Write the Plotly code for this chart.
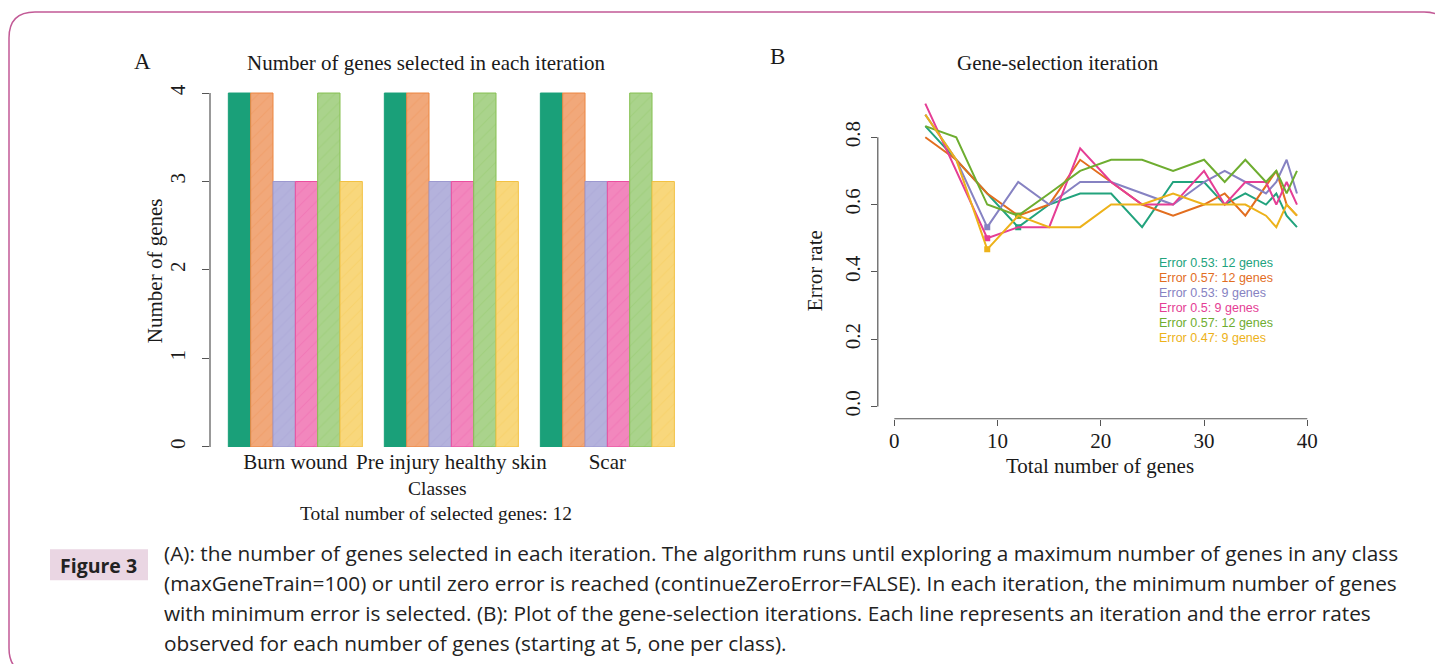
import plotly.graph_objects as go

W, H = 1435, 664

# ---------------- Panel A data ----------------
classes = ["Burn wound", "Pre injury healthy skin", "Scar"]
iter1 = [4, 4, 4]
iter2 = [4, 4, 4]
iter3 = [3, 3, 3]
iter4 = [3, 3, 3]
iter5 = [4, 4, 4]
iter6 = [3, 3, 3]
total_selected = 12

# ---------------- Panel B data ----------------
teal_x = [3, 6, 9, 12, 15, 18, 21, 24, 27, 30, 32, 34, 36, 37, 38, 39]
teal_y = [0.833, 0.733, 0.633, 0.533, 0.6, 0.633, 0.633, 0.533, 0.667, 0.667, 0.6, 0.633, 0.6, 0.633, 0.567, 0.533]
orange_x = [3, 6, 9, 12, 15, 18, 21, 24, 27, 30, 32, 34, 37, 38, 39]
orange_y = [0.8, 0.733, 0.633, 0.567, 0.6, 0.733, 0.667, 0.6, 0.567, 0.6, 0.633, 0.567, 0.7, 0.6, 0.567]
purple_x = [3, 6, 9, 12, 15, 18, 21, 24, 27, 30, 32, 34, 36, 37, 38, 39]
purple_y = [0.867, 0.733, 0.533, 0.667, 0.6, 0.667, 0.667, 0.633, 0.6, 0.667, 0.7, 0.667, 0.633, 0.667, 0.733, 0.633]
pink_x = [3, 6, 9, 12, 15, 18, 21, 24, 27, 30, 32, 34, 36, 37, 38, 39]
pink_y = [0.9, 0.7, 0.5, 0.533, 0.533, 0.767, 0.667, 0.6, 0.6, 0.7, 0.6, 0.667, 0.667, 0.6, 0.667, 0.6]
green_x = [3, 6, 9, 12, 15, 18, 21, 24, 27, 30, 32, 34, 36, 37, 38, 39]
green_y = [0.833, 0.8, 0.6, 0.567, 0.633, 0.7, 0.733, 0.733, 0.7, 0.733, 0.667, 0.733, 0.667, 0.7, 0.633, 0.7]
yellow_x = [3, 6, 9, 12, 15, 18, 21, 24, 27, 30, 34, 36, 37, 38, 39]
yellow_y = [0.867, 0.733, 0.467, 0.567, 0.533, 0.533, 0.6, 0.6, 0.633, 0.6, 0.6, 0.567, 0.533, 0.6, 0.567]

caption_lines = [
    "(A): the number of genes selected in each iteration. The algorithm runs until exploring a maximum number of genes in any class",
    "(maxGeneTrain=100) or until zero error is reached (continueZeroError=FALSE). In each iteration, the minimum number of genes",
    "with minimum error is selected. (B): Plot of the gene-selection iterations. Each line represents an iteration and the error rates",
    "observed for each number of genes (starting at 5, one per class).",
]

# ---------------- styles ----------------
line_cols = ["#22A37D", "#E26E1F", "#8682C2", "#E53E95", "#6EAD30", "#EDB21A"]
bar_fill = ["#1AA079", "#F1A87A", "#B4B2DC", "#F287BD", "#AAD38C", "#F8D77C"]
bar_edge = ["#1AA079", "#EC8640", "#9C98CF", "#EA4F9F", "#86C051", "#F2C142"]
SERIF = "Liberation Serif"
SANS = "Liberation Sans"
CAP = "Open Sans"
TXT = "#1a1a1a"
AX = "#555555"
FS = 21


def px(x):
    return x / W


def py(y):
    return 1 - y / H


fig = go.Figure()

bar_series = [iter1, iter2, iter3, iter4, iter5, iter6]
for i, vals in enumerate(bar_series):
    pat = dict(shape="") if i == 0 else dict(shape="/", fgcolor=bar_edge[i], fgopacity=0.25, size=9, solidity=0.12)
    fig.add_trace(go.Bar(
        x=classes, y=vals, xaxis="x", yaxis="y",
        marker=dict(color=bar_fill[i], line=dict(color=bar_edge[i], width=1), pattern=pat),
        showlegend=False, hoverinfo="skip",
    ))

line_series = [(teal_x, teal_y), (orange_x, orange_y), (purple_x, purple_y),
               (pink_x, pink_y), (green_x, green_y), (yellow_x, yellow_y)]
legend_texts = []
for i, (xs, ys) in enumerate(line_series):
    fig.add_trace(go.Scatter(
        x=xs, y=ys, mode="lines", xaxis="x2", yaxis="y2",
        line=dict(color=line_cols[i], width=2), showlegend=False, hoverinfo="skip",
    ))
    m = min(ys)
    k = ys.index(m)
    fig.add_trace(go.Scatter(
        x=[xs[k]], y=[m], mode="markers", xaxis="x2", yaxis="y2",
        marker=dict(color=line_cols[i], size=6, symbol="square"), showlegend=False, hoverinfo="skip",
    ))
    legend_texts.append(f"Error {round(m, 2):g}: {xs[k]} genes")

tickfont = dict(family=SERIF, size=FS, color=TXT)

fig.update_layout(
    width=W, height=H,
    margin=dict(l=0, r=0, t=0, b=0),
    paper_bgcolor="white", plot_bgcolor="white",
    barmode="group", bargap=22 / 156, bargroupgap=0,
    xaxis=dict(domain=[px(210), px(693)], type="category", range=[-0.547, 2.549],
               showline=False, ticks="", showgrid=False, zeroline=False,
               tickfont=tickfont, anchor="y"),
    yaxis=dict(domain=[py(448.3), py(79.1)], range=[0, 4.16], tickvals=[0, 1, 2, 3, 4],
               ticks="outside", ticklen=7, tickcolor=AX, tickwidth=1.2, tickangle=-90,
               showline=False, showgrid=False, zeroline=False, tickfont=tickfont,
               ticklabelstandoff=9, anchor="x"),
    xaxis2=dict(domain=[px(877.8), px(1323.8)], range=[-1.6, 41.6], tickvals=[0, 10, 20, 30, 40],
                ticks="outside", ticklen=6, tickcolor=AX, tickwidth=1.2, ticklabelstandoff=-3,
                showline=False, showgrid=False, zeroline=False, tickfont=tickfont, anchor="y2"),
    yaxis2=dict(domain=[py(420), py(91.7)], range=[-0.036, 0.936], tickvals=[0, 0.2, 0.4, 0.6, 0.8],
                ticktext=["0.0", "0.2", "0.4", "0.6", "0.8"],
                ticks="outside", ticklen=6, tickcolor=AX, tickwidth=1.2, tickangle=-90,
                showline=False, showgrid=False, zeroline=False, tickfont=tickfont,
                ticklabelstandoff=2, anchor="x2"),
)

shapes = [
    dict(type="line", xref="x domain", yref="y", x0=0, x1=0, y0=0, y1=4, line=dict(color=AX, width=1.2)),
    dict(type="line", xref="x2 domain", yref="y2", x0=0, x1=0, y0=0, y1=0.8, line=dict(color=AX, width=1.2)),
    dict(type="line", xref="x2", yref="y2 domain", x0=0, x1=40, y0=0, y1=0, line=dict(color=AX, width=1.2)),
]

# rounded border around the figure
L, T, R, B, r = 9, 12, 1450, 676, 26
path = (f"M {px(L)},{py(B - r)} L {px(L)},{py(T + r)} Q {px(L)},{py(T)} {px(L + r)},{py(T)} "
        f"L {px(R - r)},{py(T)} Q {px(R)},{py(T)} {px(R)},{py(T + r)} "
        f"L {px(R)},{py(B - r)} Q {px(R)},{py(B)} {px(R - r)},{py(B)} "
        f"L {px(L + r)},{py(B)} Q {px(L)},{py(B)} {px(L)},{py(B - r)} Z")
shapes.append(dict(type="path", xref="paper", yref="paper", path=path,
                   line=dict(color="#C25A96", width=1.5), layer="below"))
# Figure 3 label box
shapes.append(dict(type="rect", xref="paper", yref="paper", x0=px(50), x1=px(148), y0=py(582), y1=py(551),
                   fillcolor="#EAD6E3", line=dict(width=0), layer="below"))
fig.update_layout(shapes=shapes)

ann = []


def add_text(x, y, text, size, family=SERIF, color=TXT, xanchor="center", angle=0, bold=False):
    ann.append(dict(xref="paper", yref="paper", x=px(x), y=py(y), text=f"<b>{text}</b>" if bold else text,
                    showarrow=False, xanchor=xanchor, yanchor="middle", textangle=angle,
                    font=dict(family=family, size=size, color=color)))


add_text(142, 62, "A", 23)
add_text(777, 57, "B", 23)
add_text(426, 63, "Number of genes selected in each iteration", FS)
add_text(1058, 63, "Gene-selection iteration", FS)
add_text(155, 272, "Number of genes", FS, angle=-90)
add_text(437, 490, "Classes", 19.5)
add_text(436, 515, f"Total number of selected genes: {total_selected}", 19.5)
add_text(815, 272, "Error rate", FS, angle=-90)
add_text(1100, 467, "Total number of genes", FS)
for i, t in enumerate(legend_texts):
    add_text(1157, 264 + 15 * i, t, 12.5, family=SANS, color=line_cols[i], xanchor="left")

add_text(99, 567, "Figure 3", 19.5, family=CAP, color="#222222", bold=True)
for i, t in enumerate(caption_lines):
    add_text(162, 555 + 30 * i, t, 20.8, family=CAP, color="#222222", xanchor="left")

fig.update_layout(annotations=ann)
fig.write_html("out.html")
